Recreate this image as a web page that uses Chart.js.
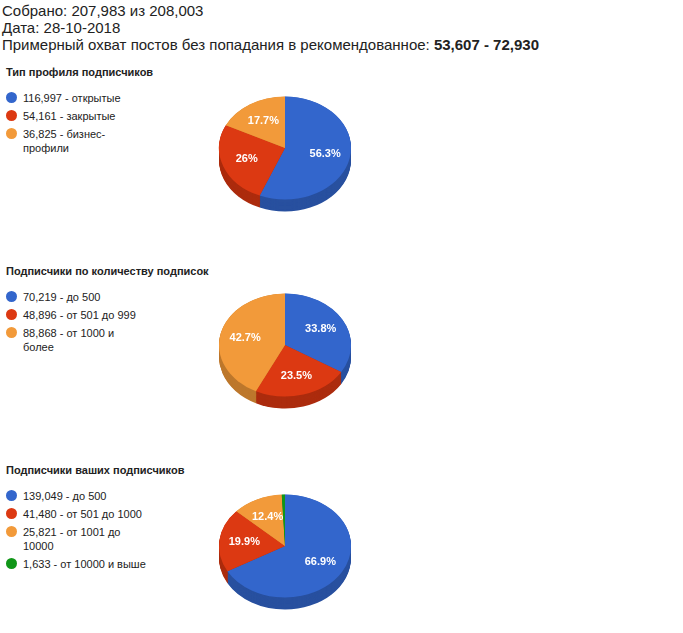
<!DOCTYPE html>
<html lang="ru">
<head>
<meta charset="UTF-8">
<title>Подписчики</title>
<script src="https://cdn.jsdelivr.net/npm/chart.js"></script>
<style>
  body { margin: 0; background: #fff; font-family: "Liberation Sans", Arial, sans-serif; color: #222; }
  #head { position: absolute; left: 2px; top: 2px; font-size: 15px; line-height: 17px; }
  .title { position: absolute; left: 6px; font-size: 11px; font-weight: bold; }
  .legend { position: absolute; left: 6px; width: 140px; font-size: 11px; line-height: 14px; }
  .item { position: relative; padding-left: 17px; margin-bottom: 4px; }
  .dot { position: absolute; left: 0; top: 1px; width: 11px; height: 11px; border-radius: 50%; }
  canvas { position: absolute; }
</style>
</head>
<body>
<div id="head">Собрано: 207,983 из 208,003<br>Дата: 28-10-2018<br>Примерный охват постов без попадания в рекомендованное: <b>53,607 - 72,930</b></div>
<script>
// данные
const colors = ['#3366cc', '#dc3912', '#f29a3a', '#109618'];

const titles = ['Тип профиля подписчиков', 'Подписчики по количеству подписок', 'Подписчики ваших подписчиков'];

const values1 = [116997, 54161, 36825];
const labels1 = ['116,997 - открытые', '54,161 - закрытые', '36,825 - бизнес-профили'];

const values2 = [70219, 48896, 88868];
const labels2 = ['70,219 - до 500', '48,896 - от 501 до 999', '88,868 - от 1000 и более'];

const values3 = [139049, 41480, 25821, 1633];
const labels3 = ['139,049 - до 500', '41,480 - от 501 до 1000', '25,821 - от 1001 до 10000', '1,633 - от 10000 и выше'];

const blocks = [
  { values: values1, labels: labels1, top: 66, cy: 148 },
  { values: values2, labels: labels2, top: 265, cy: 345 },
  { values: values3, labels: labels3, top: 464, cy: 546 }
];

const SQ = 0.78, DEPTH = 12;

function darker(hex, f) {
  const n = parseInt(hex.slice(1), 16);
  const r = Math.round(((n >> 16) & 255) * f), g = Math.round(((n >> 8) & 255) * f), b = Math.round((n & 255) * f);
  return `rgb(${r},${g},${b})`;
}

// псевдо-3D наклон
const tilt = {
  id: 'tilt',
  beforeDatasetsDraw(chart) {
    const ctx = chart.ctx;
    const arcs = chart.getDatasetMeta(0).data;
    const cx = arcs[0].x, cy = arcs[0].y;
    ctx.save();
    ctx.translate(cx, cy); ctx.scale(1, SQ); ctx.translate(-cx, -cy);
    for (let d = DEPTH / SQ; d > 0; d -= 1) {
      arcs.forEach((a, i) => {
        ctx.beginPath();
        ctx.moveTo(cx, cy + d);
        ctx.arc(cx, cy + d, a.outerRadius, a.startAngle, a.endAngle);
        ctx.closePath();
        ctx.fillStyle = darker(colors[i], 0.78);
        ctx.fill();
      });
    }
  },
  afterDatasetsDraw(chart) {
    const ctx = chart.ctx;
    ctx.restore();
    const arcs = chart.getDatasetMeta(0).data;
    const vals = chart.data.datasets[0].data;
    const total = vals.reduce((s, v) => s + v, 0);
    ctx.save();
    ctx.fillStyle = '#fff';
    ctx.font = 'bold 11px "Liberation Sans", Arial, sans-serif';
    ctx.textAlign = 'center'; ctx.textBaseline = 'middle';
    arcs.forEach((a, i) => {
      const p = vals[i] / total * 100;
      if (p < 5) return;
      const m = (a.startAngle + a.endAngle) / 2;
      const r = a.outerRadius * 0.62;
      ctx.fillText(+p.toFixed(1) + '%', a.x + Math.cos(m) * r, a.y + Math.sin(m) * r * SQ);
    });
    ctx.restore();
  }
};

blocks.forEach((b, k) => {
  const t = document.createElement('div');
  t.className = 'title'; t.style.top = b.top + 'px'; t.textContent = titles[k];
  document.body.appendChild(t);
  const lg = document.createElement('div');
  lg.className = 'legend'; lg.style.top = (b.top + 25) + 'px';
  b.labels.forEach((l, i) => {
    lg.innerHTML += `<div class="item"><span class="dot" style="background:${colors[i]}"></span>${l}</div>`;
  });
  document.body.appendChild(lg);

  const c = document.createElement('canvas');
  c.width = 140; c.height = 140;
  c.style.left = (285 - 70) + 'px';
  c.style.top = (b.cy - 70) + 'px';
  document.body.appendChild(c);
  new Chart(c, {
    type: 'pie',
    data: {
      labels: b.labels,
      datasets: [{ data: b.values, backgroundColor: colors.slice(0, b.values.length), borderWidth: 0 }]
    },
    options: {
      responsive: false,
      animation: false,
      layout: { padding: 4 },
      plugins: { legend: { display: false }, tooltip: { enabled: false } }
    },
    plugins: [tilt]
  });
});
</script>
</body>
</html>
